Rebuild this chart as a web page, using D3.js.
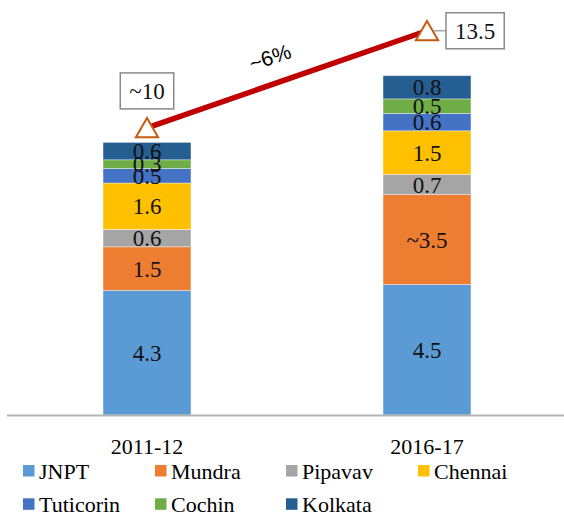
<!DOCTYPE html>
<html>
<head>
<meta charset="utf-8">
<script src="https://cdn.jsdelivr.net/npm/d3@7"></script>
<style>
  html, body { margin: 0; padding: 0; background: #fff; }
  svg { display: block; }
  .serif { font-family: "Liberation Serif", "Times New Roman", Times, "DejaVu Serif", serif; }
  .sans { font-family: "Liberation Sans", Arial, Helvetica, sans-serif; }
</style>
</head>
<body>
<svg id="chart" width="564" height="513"></svg>
<script>
// ---- data ----
const periods = ["2011-12", "2016-17"];
const ports = ["JNPT", "Mundra", "Pipavav", "Chennai", "Tuticorin", "Cochin", "Kolkata"];
const colors = ["#5B9BD5", "#ED7D31", "#A5A5A5", "#FFC000", "#4472C4", "#70AD47", "#255E91"];
const values2011 = [4.3, 1.5, 0.6, 1.6, 0.5, 0.3, 0.6];
const values2016 = [4.5, 3.1, 0.7, 1.5, 0.6, 0.5, 0.8];
const labels2011 = ["4.3", "1.5", "0.6", "1.6", "0.5", "0.3", "0.6"];
const labels2016 = ["4.5", "~3.5", "0.7", "1.5", "0.6", "0.5", "0.8"];
const totalValues = [9.9, 13.25];
const totalLabels = ["~10", "13.5"];
const growthLabel = "~6%";

// ---- layout ----
const svg = d3.select("#chart");

const x = d3.scaleBand().domain(periods).range([7, 567]).paddingInner(0.686).paddingOuter(0.343);
const y = d3.scaleLinear().domain([0, 14]).range([415, 9]);

const rows = periods.map((p, i) => {
  const obj = { period: p };
  const vals = i === 0 ? values2011 : values2016;
  ports.forEach((k, j) => obj[k] = vals[j]);
  return obj;
});
const labelSets = [labels2011, labels2016];
const stack = d3.stack().keys(ports)(rows);

// bars
const layers = svg.append("g").selectAll("g").data(stack).join("g")
  .attr("fill", (d, i) => colors[i]);
layers.selectAll("rect").data(d => d).join("rect")
  .attr("x", d => x(d.data.period))
  .attr("width", x.bandwidth())
  .attr("y", d => y(d[1]))
  .attr("height", d => y(d[0]) - y(d[1]))
  .attr("stroke", "#ffffff").attr("stroke-opacity", 0.5).attr("stroke-width", 0.75);

// axis
const axis = svg.append("g").attr("transform", "translate(0,415.5)")
  .call(d3.axisBottom(x).tickSize(0).tickPadding(0));
axis.attr("font-family", null).attr("font-size", null);
axis.select(".domain").attr("stroke", "#b3b3b3").attr("stroke-width", 2)
  .attr("d", "M7,0H564");
axis.selectAll("text").attr("class", "serif").style("font-size", "22px")
  .attr("fill", "#000").attr("dy", null).attr("y", 38);

// data labels
stack.forEach((layer, li) => {
  layer.forEach((d, pi) => {
    svg.append("text")
      .attr("class", "serif")
      .attr("x", x(d.data.period) + x.bandwidth() / 2)
      .attr("y", (y(d[0]) + y(d[1])) / 2)
      .attr("dy", "0.35em")
      .attr("text-anchor", "middle")
      .style("font-size", "23px")
      .attr("fill", "#111")
      .text(labelSets[pi][li]);
  });
});

// total line
const cx = p => x(p) + x.bandwidth() / 2;
const linePts = periods.map((p, i) => [cx(p), y(totalValues[i])]);
svg.append("path").attr("d", d3.line()(linePts))
  .attr("fill", "none").attr("stroke", "#C00000").attr("stroke-width", 5.5);

// leader line for right label
svg.append("line")
  .attr("x1", linePts[1][0]).attr("y1", linePts[1][1])
  .attr("x2", linePts[1][0] + 19).attr("y2", linePts[1][1])
  .attr("stroke", "#a6a6a6").attr("stroke-width", 1.5);

// markers
const tri = d3.symbol().type(d3.symbolTriangle).size(215);
linePts.forEach(pt => {
  svg.append("path").attr("d", tri())
    .attr("transform", `translate(${pt[0]},${pt[1] + 3})`)
    .attr("fill", "#fff").attr("stroke", "#C55A11").attr("stroke-width", 2);
});

// total labels in boxes
function measure(txt) {
  const tmp = svg.append("text").attr("class", "serif").style("font-size", "23px").text(txt);
  const w = tmp.node().getComputedTextLength();
  tmp.remove();
  return w;
}
function boxLabel(txt, cxp, cyp) {
  const g = svg.append("g");
  const w = measure(txt) + 18;
  g.append("rect").attr("x", cxp - w / 2).attr("y", cyp - 18).attr("width", w).attr("height", 36)
    .attr("fill", "#fff").attr("stroke", "#8a8a8a").attr("stroke-width", 1.5);
  g.append("text").attr("class", "serif").attr("x", cxp).attr("y", cyp).attr("dy", "0.35em")
    .attr("text-anchor", "middle").style("font-size", "23px")
    .attr("fill", "#111").text(txt);
}
boxLabel(totalLabels[0], linePts[0][0], linePts[0][1] - 37);
boxLabel(totalLabels[1], linePts[1][0] + 19 + (measure(totalLabels[1]) + 18) / 2, linePts[1][1]);

// growth label
const mid = [(linePts[0][0] + linePts[1][0]) / 2, (linePts[0][1] + linePts[1][1]) / 2];
svg.append("text")
  .attr("class", "sans")
  .attr("transform", `translate(${mid[0] - 17},${mid[1] - 22}) rotate(-19)`)
  .attr("text-anchor", "middle").attr("dy", "0.35em")
  .style("font-size", "21px").attr("fill", "#000")
  .text(growthLabel);

// legend
const legX = [23, 155, 286, 418];
const legend = svg.append("g");
ports.forEach((p, i) => {
  const col = i % 4, row = Math.floor(i / 4);
  const gx = legX[col], gy = 478.5 + row * 33.3;
  legend.append("rect").attr("x", gx).attr("y", gy - 13.5).attr("width", 11.5).attr("height", 11.5)
    .attr("fill", colors[i]);
  legend.append("text").attr("class", "serif").attr("x", gx + 16).attr("y", gy)
    .style("font-size", "22px").attr("fill", "#000").text(p);
});
</script>
</body>
</html>
